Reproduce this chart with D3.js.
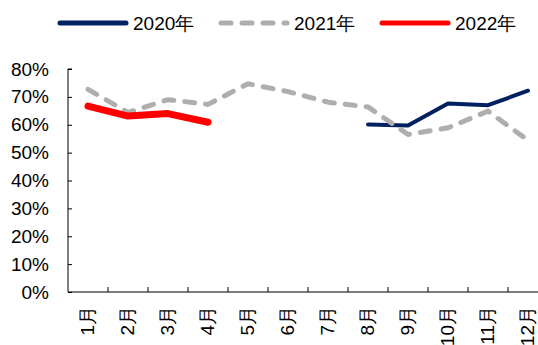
<!DOCTYPE html>
<html>
<head>
<meta charset="utf-8">
<script src="https://cdn.jsdelivr.net/npm/d3@7"></script>
<style>
    body { margin: 0; background: #fff; }
    text { font-family: "Liberation Sans", Arial, sans-serif; fill: #000; }
</style>
</head>
<body>
<svg id="mainFrame"></svg>
<script>
const months = ['1月', '2月', '3月', '4月', '5月', '6月', '7月', '8月', '9月', '10月', '11月', '12月']
const yTicks = [0, 0.1, 0.2, 0.3, 0.4, 0.5, 0.6, 0.7, 0.8]

// null = no data for that month
const values2020 = [null, null, null, null, null, null, null, 0.601, 0.597, 0.676, 0.670, 0.722]
const values2021 = [0.727, 0.644, 0.690, 0.673, 0.747, 0.719, 0.681, 0.664, 0.565, 0.589, 0.649, 0.544]
const values2022 = [0.667, 0.631, 0.640, 0.609]

const series = [
    {name: '2020年', values: values2020, color: '#002060', width: 4, dash: null},
    {name: '2021年', values: values2021, color: '#B0ADAD', width: 5, dash: '10,11'},
    {name: '2022年', values: values2022, color: '#FF0000', width: 7, dash: null}
]

const width = 538, height = 345
const svg = d3.select('#mainFrame')
    .attr('width', width)
    .attr('height', height)

const margin = {top: 69, left: 68}
const plotW = 480
const plotH = 223

const x = d3.scaleBand()
    .domain(months)
    .range([margin.left, margin.left + plotW])

const y = d3.scaleLinear()
    .domain([0, 0.8])
    .range([margin.top + plotH, margin.top])

// y axis
const yAxis = svg.append('g')
    .attr('transform', `translate(${margin.left},0)`)
    .call(d3.axisRight(y).tickValues(yTicks).tickSize(4).tickFormat(d3.format('.0%')))
yAxis.select('.domain').attr('d', `M4,${y(0.8)}H0V${y(0)}`).attr('stroke', '#000')
yAxis.selectAll('.tick line').attr('stroke', '#000')
yAxis.selectAll('.tick text')
    .attr('x', -19)
    .attr('text-anchor', 'end')
    .attr('font-size', 19)

// x axis, ticks on band boundaries pointing up
const xAxis = svg.append('g')
    .attr('transform', `translate(0,${y(0)})`)
xAxis.append('line')
    .attr('x1', margin.left).attr('x2', margin.left + plotW)
    .attr('stroke', '#000')
xAxis.selectAll('.bound')
    .data(months)
    .join('line')
    .attr('class', 'bound')
    .attr('x1', d => x(d) + x.bandwidth()).attr('x2', d => x(d) + x.bandwidth())
    .attr('y1', 0).attr('y2', -5)
    .attr('stroke', '#000')
xAxis.selectAll('text')
    .data(months)
    .join('text')
    .attr('transform', d => `translate(${x(d) + x.bandwidth() / 2 + 6},14) rotate(-90)`)
    .attr('text-anchor', 'end')
    .attr('font-size', 19)
    .text(d => d)

const line = d3.line()
    .defined(d => d != null)
    .x((d, i) => x(months[i]) + x.bandwidth() / 2)
    .y(d => y(d))

svg.selectAll('.series')
    .data(series)
    .join('path')
    .attr('class', 'series')
    .attr('d', d => line(d.values))
    .attr('fill', 'none')
    .attr('stroke', d => d.color)
    .attr('stroke-width', d => d.width)
    .attr('stroke-dasharray', d => d.dash)
    .attr('stroke-linecap', 'round')
    .attr('stroke-linejoin', 'round')

// legend
const legendX = [60, 221, 382]
const legend = svg.selectAll('.entry')
    .data(series)
    .join('g')
    .attr('class', 'entry')
    .attr('transform', (d, i) => `translate(${legendX[i]},23)`)
legend.append('line')
    .attr('x1', 0).attr('x2', 66)
    .attr('stroke', d => d.color)
    .attr('stroke-width', 5)
    .attr('stroke-dasharray', d => d.dash ? '10,11' : null)
    .attr('stroke-linecap', 'round')
legend.append('text')
    .attr('x', 73)
    .attr('dy', '0.36em')
    .attr('font-size', 19)
    .text(d => d.name)
</script>
</body>
</html>
